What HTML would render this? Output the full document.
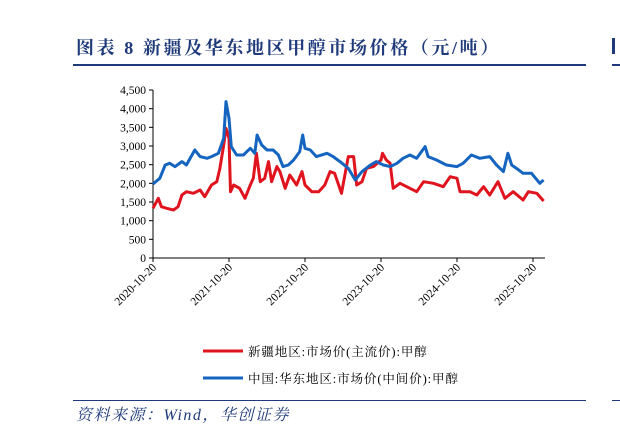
<!DOCTYPE html>
<html><head><meta charset="utf-8"><style>
body{margin:0;background:#fff;width:620px;height:437px;overflow:hidden;font-family:"Liberation Serif","Noto Serif CJK SC",serif;}
</style></head><body>
<svg width="620" height="437" xmlns="http://www.w3.org/2000/svg">
<text x="76" y="54" font-size="18" font-weight="bold" letter-spacing="2.6" fill="#1f3a7a" font-family="Liberation Serif, Noto Serif CJK SC, serif">图表 8 新疆及华东地区甲醇市场价格（元/吨）</text>
<rect x="73" y="64" width="513" height="2" fill="#1f3a7a"/>
<rect x="612" y="64" width="8" height="2" fill="#1f3a7a"/>
<rect x="612" y="38" width="3" height="16" fill="#1f3a7a"/>
<g id="axes"></g>
<g id="series"></g>
<line x1="203" y1="351" x2="243" y2="351" stroke="#e0141e" stroke-width="3"/>
<text x="248" y="356" font-size="12.5" letter-spacing="0.9" fill="#000" font-family="Liberation Serif, Noto Serif CJK SC, serif">新疆地区:市场价(主流价):甲醇</text>
<line x1="203" y1="378" x2="243" y2="378" stroke="#1565c0" stroke-width="3"/>
<text x="248" y="383" font-size="12.5" letter-spacing="0.9" fill="#000" font-family="Liberation Serif, Noto Serif CJK SC, serif">中国:华东地区:市场价(中间价):甲醇</text>
<rect x="73" y="400" width="513" height="1" fill="#1f3a7a"/>
<rect x="612" y="400" width="8" height="1" fill="#1f3a7a"/>
<text x="76" y="420" font-size="16" letter-spacing="1.5" font-style="italic" fill="#1f3a7a">资料来源：Wind，华创证券</text>
</svg>
<script>
const yTicks=[0,500,1000,1500,2000,2500,3000,3500,4000,4500];
const yTickLabels=["0","500","1,000","1,500","2,000","2,500","3,000","3,500","4,000","4,500"];
const xTicks=[0,1,2,3,4,5];
const xTickLabels=["2020-10-20","2021-10-20","2022-10-20","2023-10-20","2024-10-20","2025-10-20"];
const blueT=[0,.09,.16,.22,.29,.38,.44,.55,.62,.71,.77,.86,.93,.96,1.0,1.03,1.1,1.19,1.28,1.34,1.37,1.43,1.5,1.58,1.65,1.71,1.78,1.85,1.93,1.97,2.0,2.07,2.15,2.29,2.37,2.46,2.57,2.66,2.75,2.86,2.94,3.03,3.12,3.21,3.29,3.38,3.47,3.58,3.62,3.73,3.86,4.0,4.08,4.19,4.3,4.43,4.52,4.61,4.67,4.72,4.81,4.87,4.98,5.09,5.14];
const blueV=[1982,2135,2492,2536,2447,2581,2492,2893,2715,2670,2715,2804,3206,4188,3741,2983,2760,2760,2938,2804,3295,3027,2893,2893,2760,2447,2492,2625,2849,3295,2938,2893,2715,2804,2715,2581,2402,2090,2313,2492,2581,2492,2447,2536,2670,2760,2670,2983,2715,2625,2492,2447,2536,2760,2670,2715,2492,2313,2804,2492,2360,2268,2268,2000,2090];
const redT=[0,.07,.11,.18,.27,.33,.38,.44,.53,.62,.68,.77,.84,.88,.93,.96,1.0,1.02,1.06,1.14,1.21,1.28,1.32,1.36,1.41,1.47,1.52,1.56,1.63,1.67,1.74,1.8,1.89,1.96,2.0,2.09,2.18,2.26,2.33,2.39,2.48,2.57,2.64,2.68,2.75,2.81,2.9,3.0,3.02,3.07,3.12,3.16,3.25,3.38,3.47,3.56,3.69,3.82,3.91,4.0,4.04,4.17,4.26,4.35,4.43,4.54,4.63,4.74,4.87,4.94,5.05,5.14];
const redV=[1331,1599,1375,1331,1286,1375,1688,1777,1733,1822,1643,1956,2045,2402,3027,3474,3206,1777,1956,1866,1599,1956,2135,2804,2045,2135,2581,2045,2447,2313,1866,2224,1956,2313,1956,1777,1777,1956,2313,2268,1733,2715,2715,1956,2045,2402,2447,2625,2804,2625,2536,1866,2000,1866,1777,2045,2000,1911,2179,2135,1777,1777,1688,1911,1688,2045,1599,1777,1554,1777,1733,1527];
const NS="http://www.w3.org/2000/svg";
const X0=153,XPY=76,Y0=258,YTOP=90,YMAX=4500;
const xS=t=>X0+t*XPY;
const yS=v=>Y0-v/YMAX*(Y0-YTOP);
const axes=document.getElementById('axes'),ser=document.getElementById('series');
function mk(tag,attrs,parent){const e=document.createElementNS(NS,tag);for(const k in attrs)e.setAttribute(k,attrs[k]);parent.appendChild(e);return e;}
const ya=mk('line',{x1:X0,y1:YTOP,x2:X0,y2:Y0,stroke:'#000','stroke-width':1},axes);


const xa=mk('line',{x1:X0,y1:Y0,x2:545,y2:Y0,stroke:'#000','stroke-width':1},axes);


yTicks.forEach((v,i)=>{
 const t=mk('line',{x1:X0-4,y1:yS(v),x2:X0,y2:yS(v),stroke:'#000'},axes);
 
 
 const l=mk('text',{x:X0-7,y:yS(v)+4,'text-anchor':'end','font-size':11.5,'font-family':'Liberation Serif, serif'},axes);
 l.textContent=yTickLabels[i];
 
 
});
xTicks.forEach((v,i)=>{
 const x=xS(v);
 const t=mk('line',{x1:x,y1:Y0,x2:x,y2:Y0+4,stroke:'#000'},axes);
 
 
 const l=mk('text',{x:x+4,y:Y0+10,'text-anchor':'end','font-size':11.5,'font-family':'Liberation Serif, serif',transform:`rotate(-45 ${x+4} ${Y0+10})`},axes);
 l.textContent=xTickLabels[i];
 
 
});
function line(T,V,color,name){
 const p=mk('polyline',{points:T.map((t,i)=>xS(t).toFixed(1)+','+yS(V[i]).toFixed(1)).join(' '),fill:'none',stroke:color,'stroke-width':3,'stroke-linejoin':'round'},ser);
 
 
}
line(redT,redV,'#e0141e','series-xinjiang-line');
line(blueT,blueV,'#1565c0','series-east-china-line');
</script>
</body></html>
